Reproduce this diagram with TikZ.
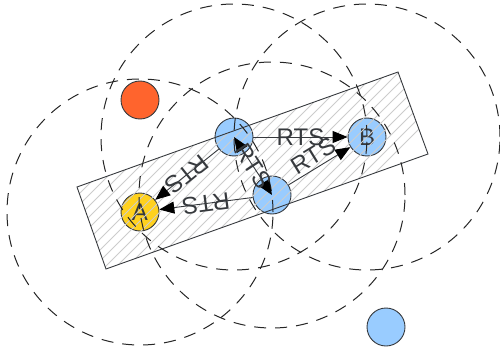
\documentclass[tikz,border=0pt]{standalone}
\usepackage{fontspec}
\setmainfont{Liberation Sans}
\usetikzlibrary{arrows.meta,positioning,calc}
\definecolor{staBlue}{RGB}{153,204,255}
\definecolor{staRed}{RGB}{255,100,45}
\definecolor{staYellow}{RGB}{255,209,30}
\definecolor{edgeGray}{RGB}{54,57,61}

\begin{document}
\begin{tikzpicture}[x=1pt,y=-1pt,
  station/.style={circle, draw=edgeGray, fill=staBlue, line width=0.9pt,
                  minimum size=38pt, inner sep=0pt,
                  font=\fontsize{24}{24}\selectfont, text=edgeGray},
  senserange/.style={draw=black!85, line width=1pt, dash pattern=on 12pt off 9pt},
  zone/.style={draw=edgeGray, line width=0.9pt},
  hatch/.style={gray!40, line width=0.8pt},
  rts/.style={-{Triangle[length=15pt,width=12pt,color=black]}, edgeGray, line width=0.9pt},
  rtslabel/.style={font=\fontsize{24}{24}\selectfont, text=edgeGray,
                   sloped, allow upside down, inner sep=0pt}
]
\useasboundingbox (0,0) rectangle (500,353);

% Radius of the carrier sense range
\def\rRange{133pt}

% Stations
\node[station,fill=staRed]    (H)  at (140,100) {};
\node[station,fill=staYellow] (A)  at (140,212) {A};
\node[station]                (S1) at (234,137) {};
\node[station]                (S2) at (272,195) {};
\node[station]                (B)  at (367,137) {B};
\node[station]                (F)  at (386,327) {};

% Hatched zone
\coordinate (z1) at (77,187);
\coordinate (z2) at (398,72);
\coordinate (z3) at (428,154);
\coordinate (z4) at (106,269);
\begin{scope}
  \clip (z1) -- (z2) -- (z3) -- (z4) -- cycle;
  \foreach \k in {0,...,45}{
    \draw[hatch] (\k*11-300,353) -- ++(353,-353);
  }
\end{scope}
\draw[zone] (z1) -- (z2) -- (z3) -- (z4) -- cycle;

% Ranges
\foreach \s in {A,S1,S2,B}{
  \draw[senserange] (\s.center) circle[radius=\rRange];
}

% RTS frames
\draw[rts] (S1) -- node[rtslabel] {RTS} (B);
\draw[rts] (S2) -- node[rtslabel,above=3pt] {RTS} (B);
\draw[rts,{Triangle[length=15pt,width=12pt,color=black]}-{Triangle[length=15pt,width=12pt,color=black]}]
  (S1.center) -- node[rtslabel] {RTS} (S2.center);
\draw[rts] (S1) -- node[rtslabel] {RTS} (A);
\draw[rts] (S2) -- node[rtslabel] {RTS} (A);

\end{tikzpicture}
\end{document}
